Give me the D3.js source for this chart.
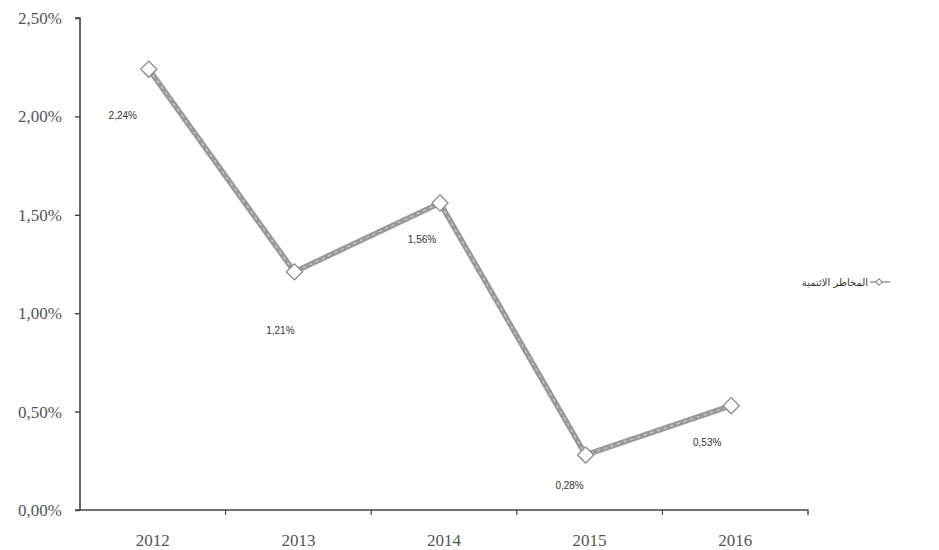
<!DOCTYPE html>
<html>
<head>
<meta charset="utf-8">
<script src="https://cdn.jsdelivr.net/npm/d3@7"></script>
<style>
  body { margin: 0; background: #fff; }
  svg { display: block; }
</style>
</head>
<body>
<svg id="chart" width="939" height="550"></svg>
<script>
// ---- data ----
const years = ["2012", "2013", "2014", "2015", "2016"];
const creditRisk = [2.24, 1.21, 1.56, 0.28, 0.53];   // percent
const yTicks = [0, 0.5, 1.0, 1.5, 2.0, 2.5];
const seriesName = "المخاطر الائتمية";

// ---- setup ----
const svg = d3.select("#chart");
const mLeft = 80, mRight = 808, mTop = 18, mBottom = 510;

const locale = d3.formatLocale({ decimal: ",", thousands: ".", grouping: [3], currency: ["", ""] });
const fmt = v => locale.format(".2f")(v) + "%";

const x = d3.scaleBand().domain(years).range([mLeft, mRight]);
const y = d3.scaleLinear().domain([0, 2.5]).range([mBottom, mTop]);

// ---- axes ----
const yAxis = svg.append("g")
  .attr("transform", `translate(${mLeft},0)`)
  .call(d3.axisLeft(y).tickValues(yTicks).tickFormat(fmt).tickSize(5).tickPadding(13));
yAxis.select(".domain").attr("stroke", "#444").attr("stroke-width", 1.6).attr("d", `M-5,${mTop}H0V${mBottom}H-5`);
yAxis.selectAll(".tick line").attr("stroke", "#444").attr("stroke-width", 1.4);
yAxis.selectAll(".tick text")
  .attr("font-family", "'Liberation Serif', 'Times New Roman', serif")
  .attr("font-size", 17).attr("fill", "#555");

const xAxis = svg.append("g")
  .attr("transform", `translate(0,${mBottom})`)
  .call(d3.axisBottom(x).tickSize(0).tickPadding(24));
xAxis.select(".domain").attr("stroke", "#444").attr("stroke-width", 1.4).attr("d", `M${mLeft},0H${mRight}V5`);
xAxis.selectAll(".tick text")
  .attr("font-family", "'Liberation Serif', 'Times New Roman', serif")
  .attr("font-size", 17).attr("fill", "#555");
// category boundary ticks
const bounds = years.map(d => x(d)).concat([x.range()[1]]);
svg.append("g").selectAll("line").data(bounds.slice(1, -1)).join("line")
  .attr("x1", d => d).attr("x2", d => d)
  .attr("y1", mBottom).attr("y2", mBottom + 5)
  .attr("stroke", "#444").attr("stroke-width", 1.2);

// ---- line ----
const pts = years.map((yr, i) => ({ yr, v: creditRisk[i] }));
const cx = d => x(d.yr) + x.bandwidth() / 2 - 4;
const line = d3.line().x(cx).y(d => y(d.v));

svg.append("path").datum(pts)
  .attr("d", line).attr("fill", "none")
  .attr("stroke", "#999").attr("stroke-width", 5.5).attr("stroke-linejoin", "miter");
svg.append("path").datum(pts)
  .attr("d", line).attr("fill", "none")
  .attr("stroke", "#c8c8c8").attr("stroke-width", 1.5)
  .attr("stroke-dasharray", "3 4");

// ---- markers ----
const diamond = d3.symbol().type(d3.symbolSquare).size(130);
svg.append("g").selectAll("path").data(pts).join("path")
  .attr("d", diamond)
  .attr("transform", d => `translate(${cx(d)},${y(d.v)}) rotate(45)`)
  .attr("fill", "#fff").attr("stroke", "#8a8a8a").attr("stroke-width", 1.3);

// ---- data labels (placed below-left of each point) ----
const labelOffsets = [[-26, 50], [-14, 62], [-18, 40], [-16, 34], [-24, 40]];
svg.append("g").selectAll("text").data(pts).join("text")
  .attr("x", (d, i) => cx(d) + labelOffsets[i][0])
  .attr("y", (d, i) => y(d.v) + labelOffsets[i][1])
  .attr("text-anchor", "middle")
  .attr("font-family", "'Liberation Sans', Arial, sans-serif")
  .attr("font-size", 10).attr("fill", "#333")
  .text(d => fmt(d.v));

// ---- legend ----
const lg = svg.append("g").attr("transform", "translate(870,282)");
lg.append("line").attr("x1", 0).attr("x2", 20).attr("y1", 0).attr("y2", 0)
  .attr("stroke", "#999").attr("stroke-width", 1.5);
lg.append("path").attr("d", d3.symbol().type(d3.symbolSquare).size(22))
  .attr("transform", "translate(9,0) rotate(45)")
  .attr("fill", "#fff").attr("stroke", "#888").attr("stroke-width", 1);
lg.append("text").attr("x", -2).attr("y", 4)
  .attr("text-anchor", "end")
  .attr("font-family", "'DejaVu Sans', sans-serif")
  .attr("font-size", 10).attr("fill", "#333")
  .text(seriesName);
</script>
</body>
</html>
